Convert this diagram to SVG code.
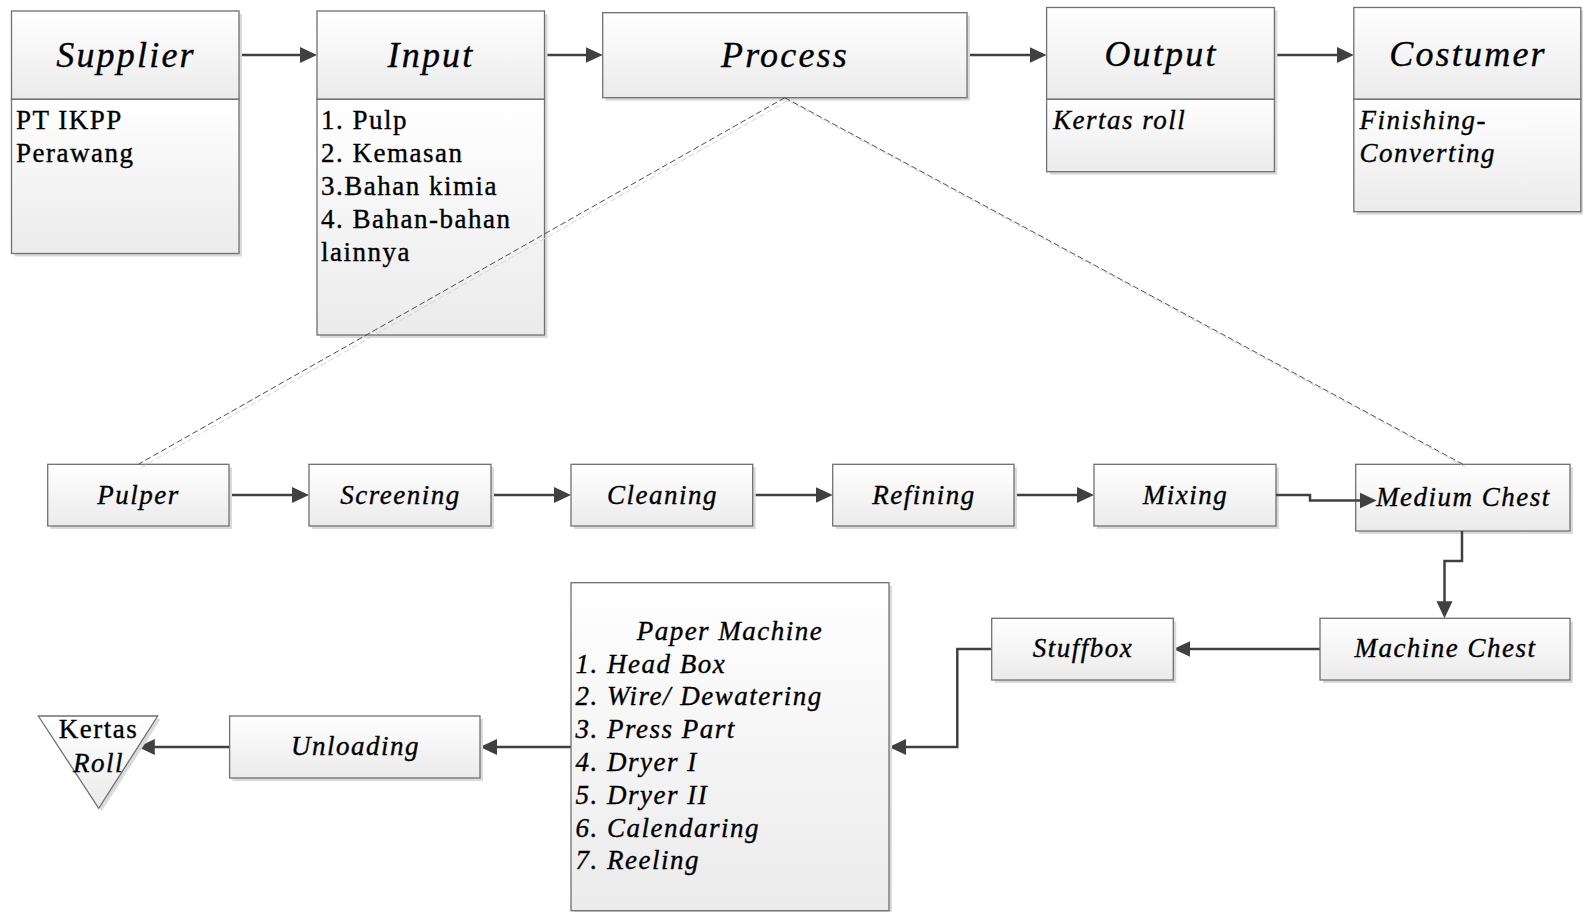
<svg xmlns="http://www.w3.org/2000/svg" width="1583" height="912" viewBox="0 0 1583 912">
<defs>
<linearGradient id="g" x1="0" y1="0" x2="0" y2="1">
<stop offset="0" stop-color="#ffffff"/>
<stop offset="1" stop-color="#ebebeb"/>
</linearGradient>
<marker id="arr" viewBox="0 0 17 17" markerWidth="17" markerHeight="17" refX="13" refY="8.5" orient="auto" markerUnits="userSpaceOnUse">
<path d="M0,0.5 L17,8.5 L0,16.5 z" fill="#404040"/>
</marker>
<style>
.sh{fill:#dadada;stroke:none}
.box{fill:url(#g);stroke:#707070;stroke-width:1.3}
.t{font-family:"Liberation Serif","Times New Roman",serif;fill:#000;stroke:#000;stroke-width:0.35}
.title{font-size:36px;font-style:italic;letter-spacing:2.2px;text-anchor:middle}
.lbl{font-size:27px;font-style:italic;letter-spacing:1.5px;text-anchor:middle}
.body{font-size:27px;letter-spacing:1.5px}
.it{font-style:italic}
.conn{fill:none;stroke:#404040;stroke-width:2.5;marker-end:url(#arr)}
.dash{fill:none;stroke:#505050;stroke-width:1;stroke-dasharray:6 3}
.dashsh{fill:none;stroke:#d4d4d4;stroke-width:1;stroke-dasharray:6 3}
</style>
</defs>

<g id="connectors">
<path class="conn" d="M239,55 H313"/>
<path class="conn" d="M544.6,55 H598.7"/>
<path class="conn" d="M967,55 H1042.6"/>
<path class="conn" d="M1274.4,55 H1349.8"/>
<path class="conn" d="M229,495 H305"/>
<path class="conn" d="M491,495 H567"/>
<path class="conn" d="M752.7,495 H828.7"/>
<path class="conn" d="M1014,495 H1090"/>
<path class="conn" d="M1320,649 H1177.3"/>
<path class="conn" d="M991.7,649 H957.3 V747 H893"/>
<path class="conn" d="M571,747 H484"/>
<path class="conn" d="M229.6,747 H141.8"/>
</g>

<g id="supplier">
<rect class="sh" x="14.5" y="14" width="227.5" height="242.5"/>
<rect class="box" x="11.5" y="11" width="227.5" height="88.3"/>
<rect class="box" x="11.5" y="99.3" width="227.5" height="154.2"/>
<text class="t title" x="126" y="67">Supplier</text>
<text class="t body" x="16" y="129">PT IKPP</text>
<text class="t body" x="16" y="162">Perawang</text>
</g>

<g id="input">
<rect class="sh" x="320" y="14" width="227.5" height="324"/>
<rect class="box" x="317" y="11" width="227.5" height="88.3"/>
<rect class="box" x="317" y="99.3" width="227.5" height="235.7"/>
<text class="t title" x="431" y="67">Input</text>
<text class="t body" x="321" y="129">1. Pulp</text>
<text class="t body" x="321" y="162">2. Kemasan</text>
<text class="t body" x="321" y="195">3.Bahan kimia</text>
<text class="t body" x="321" y="228">4. Bahan-bahan</text>
<text class="t body" x="321" y="261">lainnya</text>
</g>

<g id="process">
<rect class="sh" x="605.7" y="15.7" width="364.3" height="85"/>
<rect class="box" x="602.7" y="12.7" width="364.3" height="85"/>
<text class="t title" x="785" y="67">Process</text>
</g>

<g id="output">
<rect class="sh" x="1049.6" y="10.5" width="227.8" height="164.2"/>
<rect class="box" x="1046.6" y="7.5" width="227.8" height="91.8"/>
<rect class="box" x="1046.6" y="99.3" width="227.8" height="72.4"/>
<text class="t title" x="1161" y="66">Output</text>
<text class="t body it" x="1053" y="128.5">Kertas roll</text>
</g>

<g id="costumer">
<rect class="sh" x="1356.8" y="10.5" width="227" height="204.2"/>
<rect class="box" x="1353.8" y="7.5" width="227" height="91.8"/>
<rect class="box" x="1353.8" y="99.3" width="227" height="112.4"/>
<text class="t title" x="1468" y="66">Costumer</text>
<text class="t body it" x="1359.5" y="129">Finishing-</text>
<text class="t body it" x="1359.5" y="162">Converting</text>
</g>

<g id="pulper">
<rect class="sh" x="50.7" y="467.3" width="181.3" height="61.7"/>
<rect class="box" x="47.7" y="464.3" width="181.3" height="61.7"/>
<text class="t lbl" x="138.5" y="504">Pulper</text>
</g>

<g id="screening">
<rect class="sh" x="312" y="467.3" width="182" height="61.7"/>
<rect class="box" x="309" y="464.3" width="182" height="61.7"/>
<text class="t lbl" x="400.5" y="504">Screening</text>
</g>

<g id="cleaning">
<rect class="sh" x="574" y="467.3" width="181.7" height="61.7"/>
<rect class="box" x="571" y="464.3" width="181.7" height="61.7"/>
<text class="t lbl" x="662.5" y="504">Cleaning</text>
</g>

<g id="refining">
<rect class="sh" x="835.7" y="467.3" width="181.3" height="61.7"/>
<rect class="box" x="832.7" y="464.3" width="181.3" height="61.7"/>
<text class="t lbl" x="924" y="504">Refining</text>
</g>

<g id="mixing">
<rect class="sh" x="1097" y="467.3" width="182" height="61.7"/>
<rect class="box" x="1094" y="464.3" width="182" height="61.7"/>
<text class="t lbl" x="1185.5" y="504">Mixing</text>
</g>

<g id="medium-chest">
<rect class="sh" x="1358.7" y="467.3" width="214.3" height="66.7"/>
<rect class="box" x="1355.7" y="464.3" width="214.3" height="66.7"/>
<text class="t lbl" x="1463.5" y="506">Medium Chest</text>
</g>

<g id="machine-chest">
<rect class="sh" x="1323" y="621.3" width="250" height="61.7"/>
<rect class="box" x="1320" y="618.3" width="250" height="61.7"/>
<text class="t lbl" x="1445.5" y="657">Machine Chest</text>
</g>

<g id="stuffbox">
<rect class="sh" x="994.7" y="621.3" width="181.6" height="61.7"/>
<rect class="box" x="991.7" y="618.3" width="181.6" height="61.7"/>
<text class="t lbl" x="1083" y="657">Stuffbox</text>
</g>

<g id="paper-machine">
<rect class="sh" x="574" y="585.7" width="318" height="328"/>
<rect class="box" x="571" y="582.7" width="318" height="328"/>
<text class="t lbl" x="730" y="640">Paper Machine</text>
<text class="t body it" x="575.5" y="672.5">1. Head Box</text>
<text class="t body it" x="575.5" y="705.3">2. Wire/ Dewatering</text>
<text class="t body it" x="575.5" y="738.1">3. Press Part</text>
<text class="t body it" x="575.5" y="770.9">4. Dryer I</text>
<text class="t body it" x="575.5" y="803.7">5. Dryer II</text>
<text class="t body it" x="575.5" y="836.5">6. Calendaring</text>
<text class="t body it" x="575.5" y="869.3">7. Reeling</text>
</g>

<g id="unloading">
<rect class="sh" x="232.6" y="719" width="250.4" height="62"/>
<rect class="box" x="229.6" y="716" width="250.4" height="62"/>
<text class="t lbl" x="355.5" y="755">Unloading</text>
</g>

<g id="kertas-roll">
<polygon class="sh" points="41.3,719 160.7,719 101.7,811.3"/>
<polygon class="box" points="38.3,716 157.7,716 98.7,808.3"/>
<text class="t body" x="98.5" y="738" text-anchor="middle">Kertas</text>
<text class="t lbl" x="98.5" y="771.5">Roll</text>
</g>

<g id="connectors-front">
<path class="dashsh" d="M787.8,100.7 L141.3,467.3"/>
<path class="dashsh" d="M787.8,100.7 L1465.9,467.3"/>
<path class="dash" d="M784.8,97.7 L138.3,464.3"/>
<path class="dash" d="M784.8,97.7 L1462.9,464.3"/>
<path class="conn" d="M1276,495 H1310 V500.5 H1372.7"/>
<path class="conn" d="M1462,531 V561 H1444.5 V614.3"/>
</g>
</svg>
